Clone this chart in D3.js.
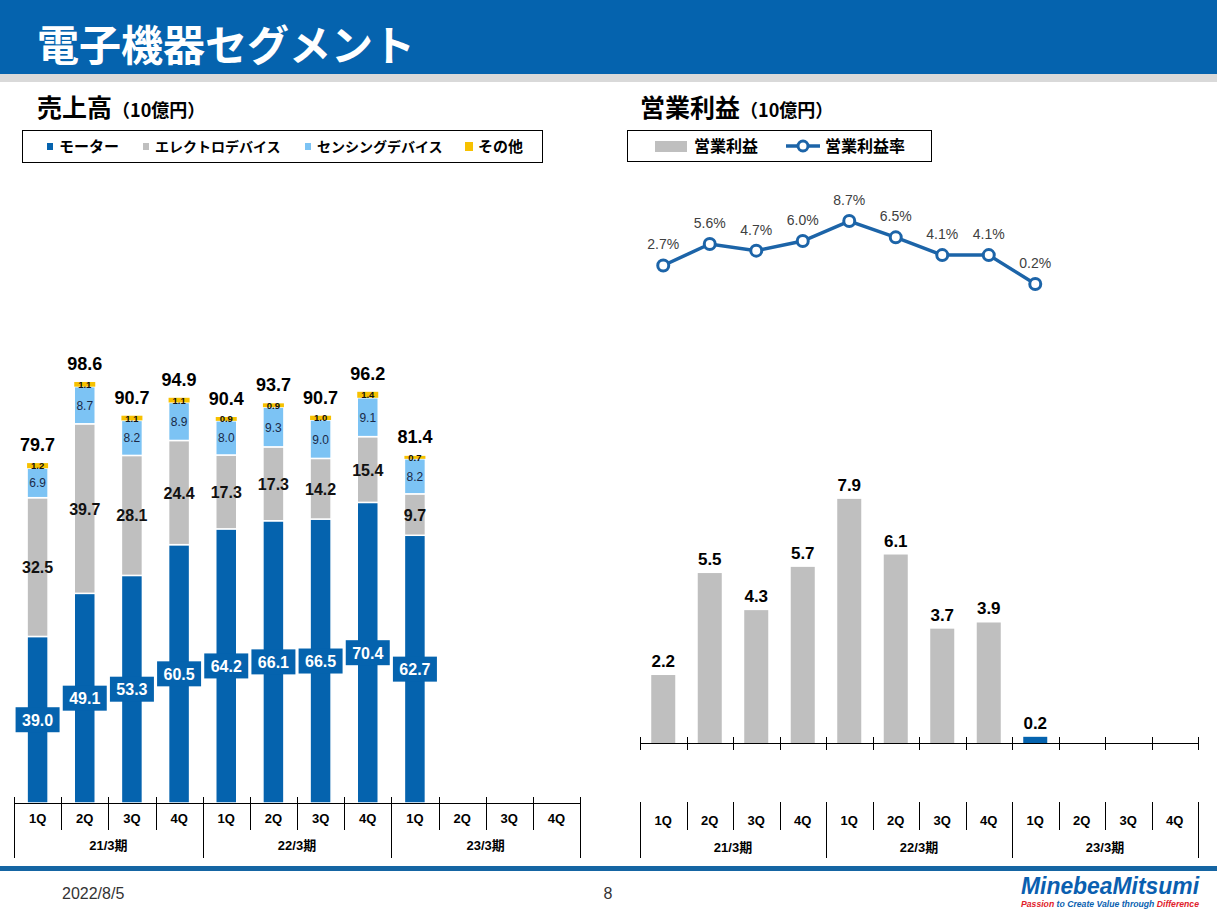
<!DOCTYPE html>
<html><head><meta charset="utf-8">
<script src="https://cdn.jsdelivr.net/npm/d3@7"></script>
<style>
body{margin:0;background:#fff;}
svg{display:block;font-family:"Liberation Sans","Noto Sans CJK JP",sans-serif;}
</style></head>
<body><svg id="c" width="1217" height="912"></svg>
<script>
// ---- data ----
const quarters = ["1Q","2Q","3Q","4Q","1Q","2Q","3Q","4Q","1Q","2Q","3Q","4Q"];
const fiscalYears = ["21/3期","22/3期","23/3期"];
const seriesNames = ["モーター","エレクトロデバイス","センシングデバイス","その他"];
const motor = [39.0,49.1,53.3,60.5,64.2,66.1,66.5,70.4,62.7];
const electro = [32.5,39.7,28.1,24.4,17.3,17.3,14.2,15.4,9.7];
const sensing = [6.9,8.7,8.2,8.9,8.0,9.3,9.0,9.1,8.2];
const other = [1.2,1.1,1.1,1.1,0.9,0.9,1.0,1.4,0.7];
const totals = [79.7,98.6,90.7,94.9,90.4,93.7,90.7,96.2,81.4];
const opProfit = [2.2,5.5,4.3,5.7,7.9,6.1,3.7,3.9,0.2];
const opMargin = [2.7,5.6,4.7,6.0,8.7,6.5,4.1,4.1,0.2];

const C = {blue:"#0563ae", gray:"#bfbfbf", lblue:"#7cc3f4", yellow:"#f7c100", header:"#0563ae", line:"#1c64a8"};
const svg = d3.select("#c");

// header
svg.append("rect").attr("x",0).attr("y",0).attr("width",1217).attr("height",74).attr("fill",C.header);
svg.append("rect").attr("x",0).attr("y",74).attr("width",1217).attr("height",8).attr("fill","#d9d9d9");
svg.append("text").attr("x",37).attr("y",61).attr("fill","#fff").attr("font-size",42).attr("font-weight","bold")
  .attr("font-family","'Noto Sans CJK JP'").text("電子機器セグメント");

// section titles
function secTitle(x, main){
  const t = svg.append("text").attr("x",x).attr("y",117).attr("font-weight","bold").attr("fill","#000")
    .attr("font-family","'Noto Sans CJK JP'");
  t.append("tspan").attr("font-size",25).text(main);
  t.append("tspan").attr("font-size",18).attr("dx",0).text("（10億円）");
}
secTitle(37,"売上高");
secTitle(640,"営業利益");

// left legend
svg.append("rect").attr("x",22.5).attr("y",130.5).attr("width",520).attr("height",32).attr("fill","none").attr("stroke","#000");
const legL = [{c:C.blue,x:47,tx:59},{c:C.gray,x:143,tx:155},{c:C.lblue,x:305,tx:317},{c:C.yellow,x:465,tx:478}];
legL.forEach((d,i)=>{
  svg.append("rect").attr("x",d.x).attr("y",i==3?142:143).attr("width",i==3?8:6).attr("height",i==3?9:7).attr("fill",d.c);
  svg.append("text").attr("x",d.tx).attr("y",152).attr("font-size",i==0||i==3?15:14).attr("font-weight","bold")
    .attr("font-family","'Noto Sans CJK JP'").text(seriesNames[i]);
});

// right legend
svg.append("rect").attr("x",627.5).attr("y",130.5).attr("width",304).attr("height",31).attr("fill","none").attr("stroke","#000");
svg.append("rect").attr("x",655).attr("y",141).attr("width",32).attr("height",11).attr("fill",C.gray);
svg.append("text").attr("x",694).attr("y",152).attr("font-size",16).attr("font-weight","bold")
  .attr("font-family","'Noto Sans CJK JP'").text("営業利益");
svg.append("line").attr("x1",786).attr("x2",820).attr("y1",146).attr("y2",146).attr("stroke",C.line).attr("stroke-width",3.5);
svg.append("circle").attr("cx",803).attr("cy",146).attr("r",5).attr("fill","#fff").attr("stroke",C.line).attr("stroke-width",3);
svg.append("text").attr("x",825).attr("y",152).attr("font-size",16).attr("font-weight","bold")
  .attr("font-family","'Noto Sans CJK JP'").text("営業利益率");

// ---- left stacked chart ----
const xL = d3.scaleBand().domain(d3.range(12)).range([14,580]).padding(0);
const yL = d3.scaleLinear().domain([0,100]).range([803,376]);
const rows = motor.map((m,i)=>({i, motor:m, electro:electro[i], sensing:sensing[i], other:other[i]}));
const keys = ["motor","electro","sensing","other"];
const colors = [C.blue,C.gray,C.lblue,C.yellow];
const stack = d3.stack().keys(keys)(rows);
const bwL = 21;
const cxL = i => xL(i) + xL.bandwidth()/2;
stack.forEach((layer,k)=>{
  svg.append("g").selectAll("rect").data(layer).join("rect")
    .attr("x",d=>cxL(d.data.i)-bwL/2).attr("width",bwL)
    .attr("y",d=>yL(d[1])).attr("height",d=>yL(d[0])-yL(d[1]))
    .attr("fill",colors[k]).attr("stroke","#fff").attr("stroke-width",k==3?0:1.5);
});
// motor labels
const gM = svg.append("g");
stack[0].forEach(d=>{
  const cy = (yL(d[0])+yL(d[1]))/2;
  gM.append("rect").attr("x",cxL(d.data.i)-22).attr("y",cy-12.5).attr("width",44).attr("height",25).attr("fill",C.blue);
  gM.append("text").attr("x",cxL(d.data.i)).attr("y",cy+6).attr("text-anchor","middle").attr("fill","#fff")
    .attr("font-size",16).attr("font-weight","bold").text(d.data.motor.toFixed(1));
});
// electro labels
stack[1].forEach(d=>{
  const cy = (yL(d[0])+yL(d[1]))/2;
  svg.append("text").attr("x",cxL(d.data.i)).attr("y",cy+6).attr("text-anchor","middle").attr("fill","#111")
    .attr("font-size",16).attr("font-weight","bold").text(d.data.electro.toFixed(1));
});
// sensing labels
stack[2].forEach(d=>{
  const cy = (yL(d[0])+yL(d[1]))/2;
  svg.append("text").attr("x",cxL(d.data.i)).attr("y",cy+4.5).attr("text-anchor","middle").attr("fill","#1a2a48")
    .attr("font-size",12).text(d.data.sensing.toFixed(1));
});
// other labels
stack[3].forEach(d=>{
  const cy = (yL(d[0])+yL(d[1]))/2;
  svg.append("text").attr("x",cxL(d.data.i)).attr("y",cy+3.5).attr("text-anchor","middle").attr("fill","#111")
    .attr("font-size",9.5).attr("font-weight","bold").text(d.data.other.toFixed(1));
});
// totals
totals.forEach((t,i)=>{
  svg.append("text").attr("x",cxL(i)).attr("y",yL(t)-12).attr("text-anchor","middle").attr("fill","#000")
    .attr("font-size",18).attr("font-weight","bold").text(t.toFixed(1));
});

// category table (generic)
function catTable(xs, axisY, qTop, qBot, yBot, qLabelY, yLabelY, withAxisLine){
  const g = svg.append("g").attr("stroke","#000").attr("stroke-width",1);
  const [x0,x1] = xs.range();
  if(withAxisLine) g.append("line").attr("x1",x0).attr("x2",x1).attr("y1",axisY).attr("y2",axisY);
  for(let i=0;i<=12;i++){
    const x = Math.round(i<12 ? xs(i) : x1)+0.5;
    const isYear = i%4===0;
    g.append("line").attr("x1",x).attr("x2",x).attr("y1",qTop).attr("y2",isYear?yBot:qBot);
  }
  quarters.forEach((q,i)=>{
    svg.append("text").attr("x",xs(i)+xs.bandwidth()/2).attr("y",qLabelY).attr("text-anchor","middle")
      .attr("font-size",13).attr("font-weight","bold").text(q);
  });
  fiscalYears.forEach((f,j)=>{
    svg.append("text").attr("x",xs(j*4)+xs.bandwidth()*2).attr("y",yLabelY).attr("text-anchor","middle")
      .attr("font-size",13).attr("font-weight","bold").text(f);
  });
}
catTable(xL, 803.5, 797, 830, 858, 823, 850, true);

// ---- right chart ----
const xR = d3.scaleBand().domain(d3.range(12)).range([640,1198]).padding(0);
const yR = d3.scaleLinear().domain([0,10]).range([743,434]);
const cxR = i => xR(i) + xR.bandwidth()/2;
const bwR = 24;
svg.append("g").selectAll("rect").data(opProfit).join("rect")
  .attr("x",(d,i)=>cxR(i)-bwR/2).attr("width",bwR)
  .attr("y",d=>yR(d)).attr("height",d=>yR(0)-yR(d))
  .attr("fill",(d,i)=>i===8?C.blue:C.gray);
opProfit.forEach((v,i)=>{
  svg.append("text").attr("x",cxR(i)).attr("y",yR(v)-8).attr("text-anchor","middle")
    .attr("font-size",17).attr("font-weight","bold").text(v.toFixed(1));
});
// axis with ticks
const gA = svg.append("g").attr("stroke","#000");
gA.append("line").attr("x1",640).attr("x2",1198).attr("y1",743.5).attr("y2",743.5);
for(let i=0;i<=12;i++){
  const x = Math.round(i<12?xR(i):1198)+0.5;
  gA.append("line").attr("x1",x).attr("x2",x).attr("y1",737).attr("y2",750);
}
catTable(xR, 0, 802, 830, 858, 825, 852, false);

// line
const yP = d3.scaleLinear().domain([0,10]).range([285.5,211.4]);
const lineGen = d3.line().x((d,i)=>cxR(i)).y(d=>yP(d));
svg.append("path").datum(opMargin).attr("d",lineGen).attr("fill","none").attr("stroke",C.line).attr("stroke-width",3.5);
svg.append("g").selectAll("circle").data(opMargin).join("circle")
  .attr("cx",(d,i)=>cxR(i)).attr("cy",d=>yP(d)).attr("r",5.5)
  .attr("fill","#fff").attr("stroke",C.line).attr("stroke-width",3);
opMargin.forEach((v,i)=>{
  svg.append("text").attr("x",cxR(i)).attr("y",yP(v)-16).attr("text-anchor","middle")
    .attr("font-size",14).attr("fill","#404040").text(v.toFixed(1)+"%");
});

// footer
svg.append("rect").attr("x",0).attr("y",866).attr("width",1217).attr("height",5).attr("fill","#1565a3");
svg.append("text").attr("x",62).attr("y",899).attr("font-size",16).attr("fill","#333").text("2022/8/5");
svg.append("text").attr("x",608).attr("y",899).attr("font-size",16).attr("fill","#333").attr("text-anchor","middle").text("8");
svg.append("text").attr("x",1199).attr("y",894).attr("text-anchor","end").attr("font-size",23).attr("font-weight","bold")
  .attr("font-style","italic").attr("fill","#0a5fb0").attr("textLength",178).attr("lengthAdjust","spacingAndGlyphs").text("MinebeaMitsumi");
const tg = svg.append("text").attr("x",1199).attr("y",907).attr("text-anchor","end").attr("font-size",8.5)
  .attr("font-weight","bold").attr("font-style","italic").attr("textLength",178).attr("lengthAdjust","spacingAndGlyphs");
tg.append("tspan").attr("fill","#e0202a").text("Passion ");
tg.append("tspan").attr("fill","#0a5fb0").text("to Create Value through ");
tg.append("tspan").attr("fill","#e0202a").text("Difference");
</script></body></html>
